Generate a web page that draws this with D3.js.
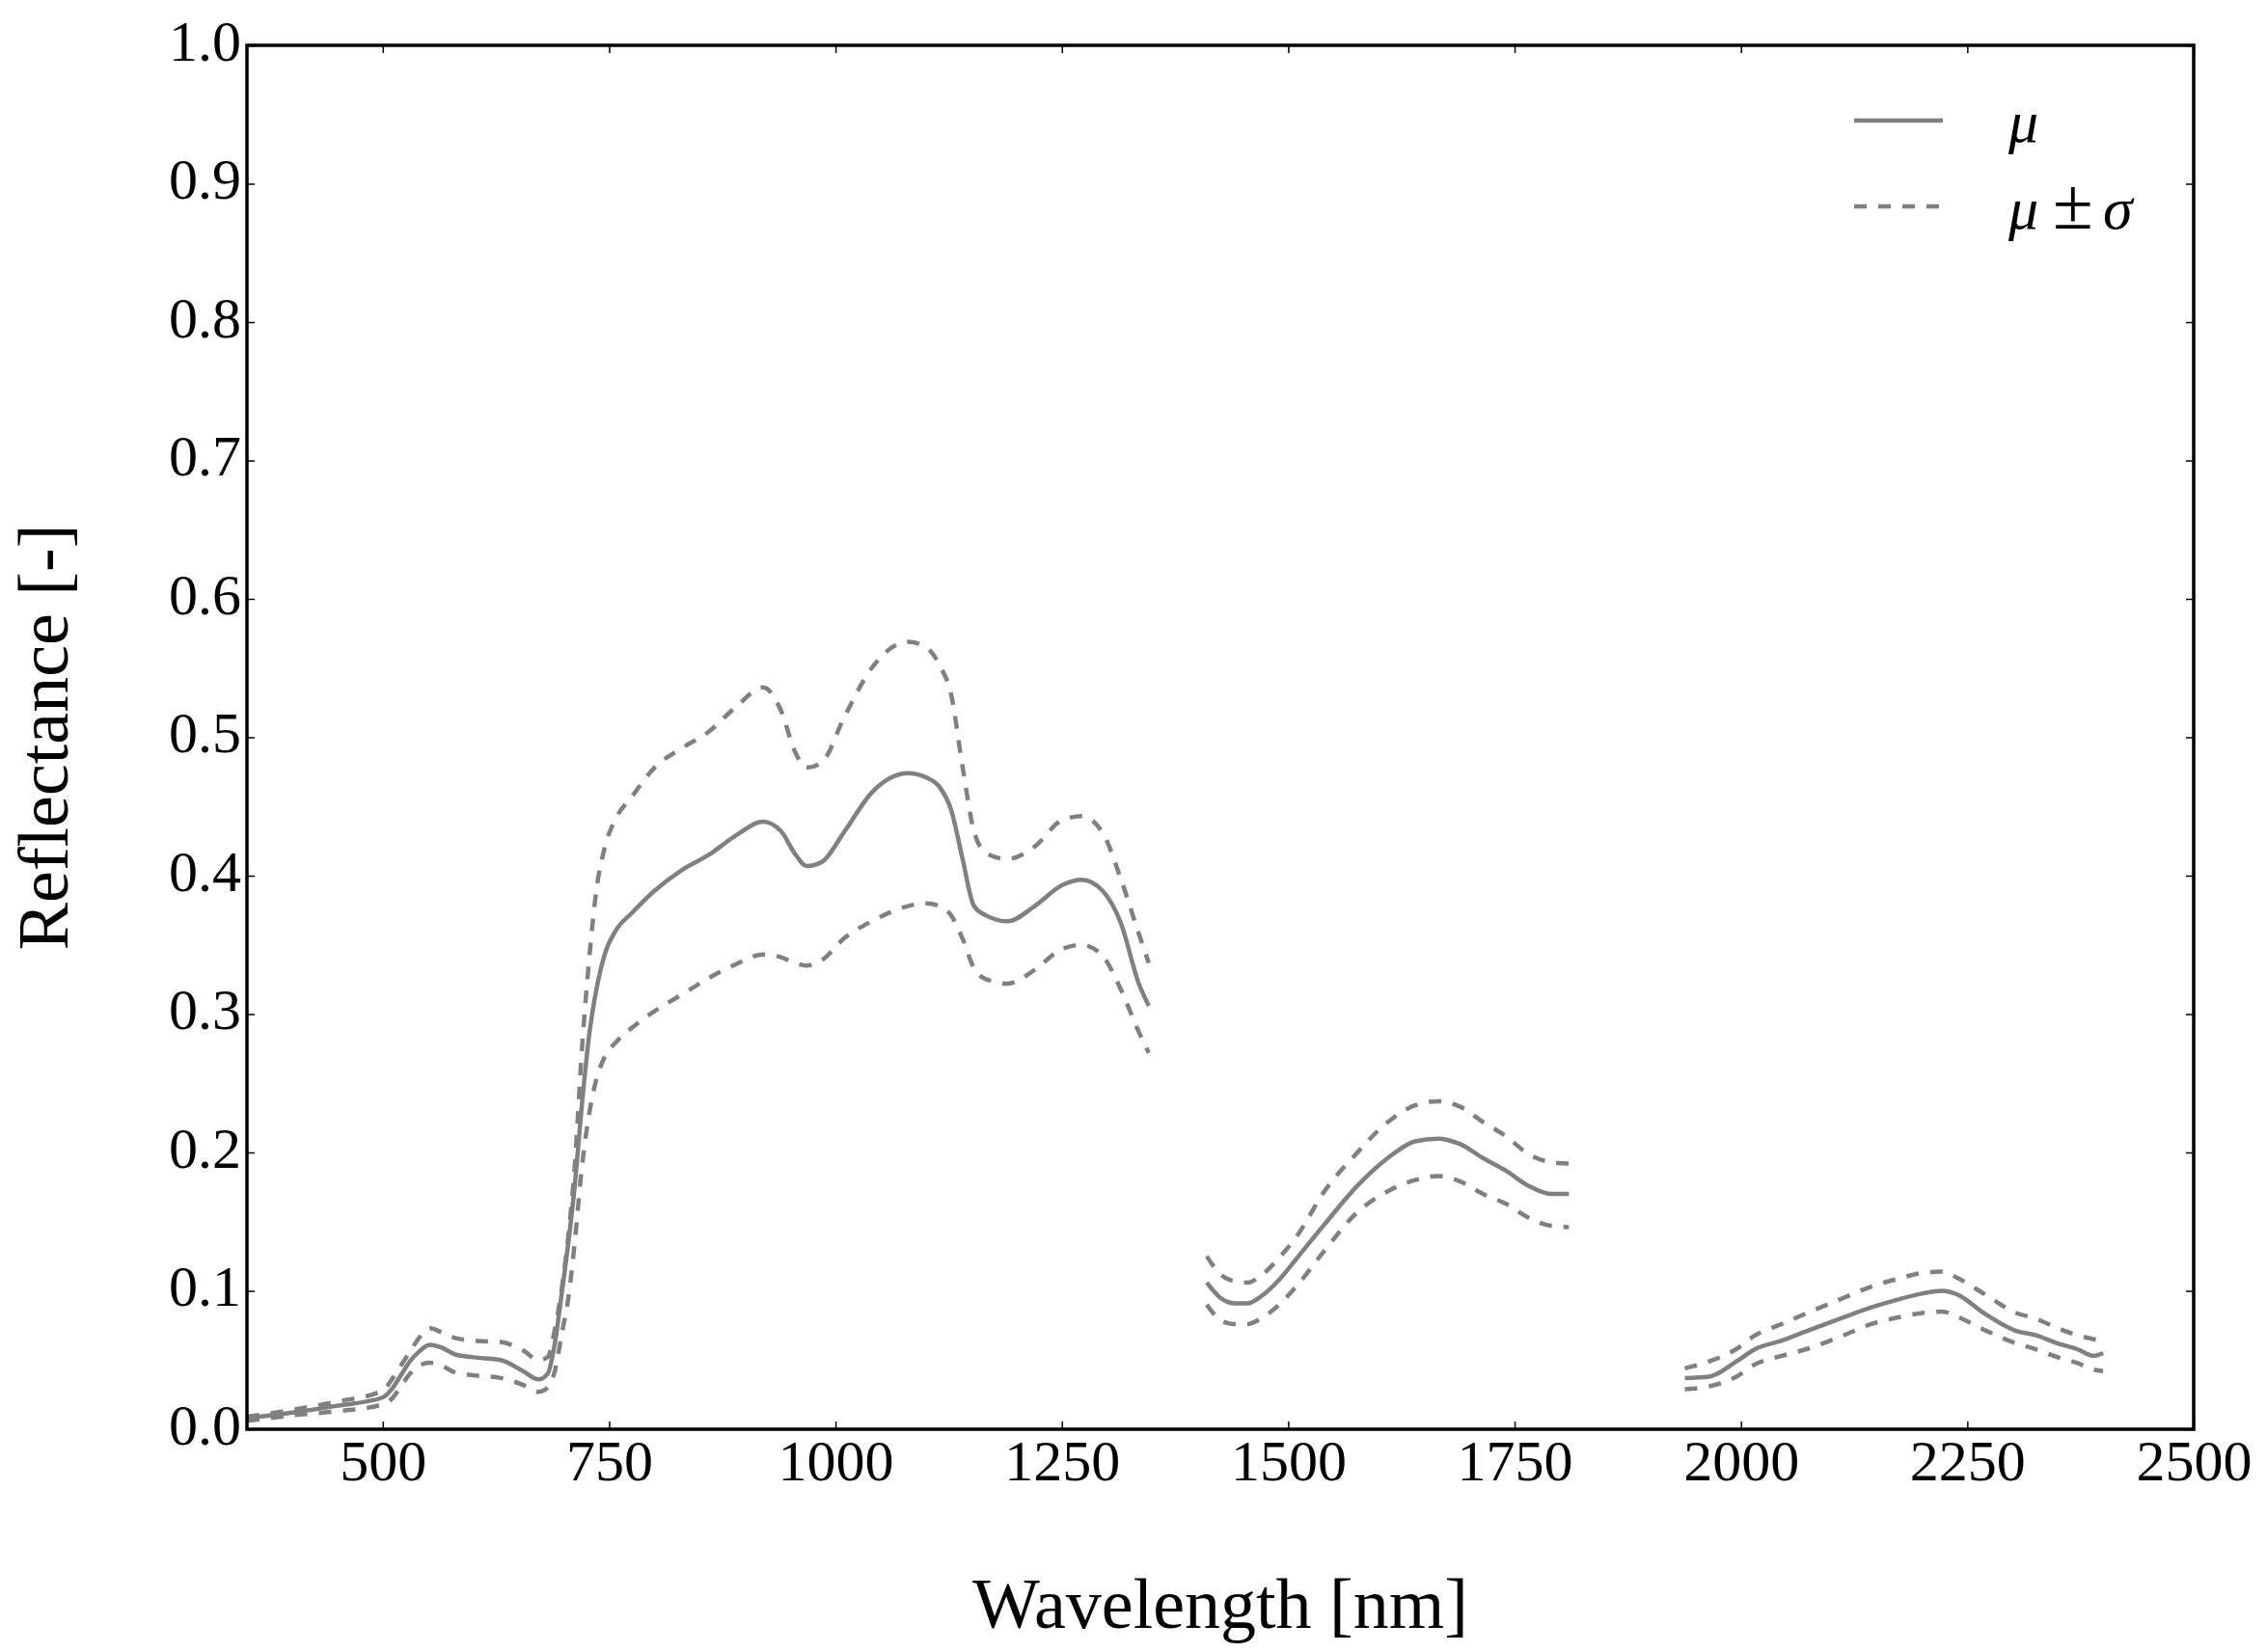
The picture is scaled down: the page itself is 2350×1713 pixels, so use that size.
<!DOCTYPE html>
<html>
<head>
<meta charset="utf-8">
<script src="https://cdn.jsdelivr.net/npm/d3@7"></script>
<style>
  body { margin: 0; background: #fff; }
  svg { display: block; }
  .tick-label { font-family: 'Liberation Serif', 'Times New Roman', serif; font-size: 60px; fill: #000; }
  .axis-title { font-family: 'Liberation Serif', 'Times New Roman', serif; font-size: 74px; fill: #000; }
  .legend-text { font-family: 'Liberation Serif', 'Times New Roman', serif; font-size: 62px; fill: #000; }
</style>
</head>
<body>
<div id="chart"></div>
<script>
/* globals d3 */

// three spectral windows (water absorption bands are left out)
const wlVis = [350, 400, 450, 500, 510, 520, 530, 540, 552, 565, 580, 600, 630, 655, 672, 682, 690, 698, 705, 712, 720, 728, 736, 745, 758, 775, 800, 830, 860, 890, 920, 940, 955, 968, 985, 1010, 1040, 1080, 1100, 1115, 1128, 1140, 1153, 1167, 1190, 1220, 1250, 1272, 1295, 1315, 1335, 1346]
const meanVis = [0.008, 0.012, 0.017, 0.023, 0.029, 0.039, 0.049, 0.056, 0.061, 0.059, 0.054, 0.052, 0.050, 0.042, 0.036, 0.040, 0.062, 0.100, 0.135, 0.176, 0.235, 0.285, 0.318, 0.343, 0.361, 0.373, 0.389, 0.404, 0.415, 0.429, 0.439, 0.432, 0.416, 0.407, 0.410, 0.432, 0.460, 0.474, 0.471, 0.464, 0.447, 0.413, 0.378, 0.371, 0.367, 0.378, 0.393, 0.397, 0.389, 0.366, 0.322, 0.306]
const plusVis = [0.009, 0.014, 0.020, 0.028, 0.036, 0.046, 0.056, 0.066, 0.073, 0.070, 0.066, 0.064, 0.063, 0.057, 0.050, 0.052, 0.072, 0.103, 0.140, 0.190, 0.275, 0.340, 0.390, 0.420, 0.442, 0.457, 0.478, 0.492, 0.504, 0.522, 0.536, 0.519, 0.490, 0.478, 0.482, 0.515, 0.550, 0.569, 0.565, 0.552, 0.530, 0.480, 0.432, 0.416, 0.412, 0.421, 0.440, 0.443, 0.431, 0.398, 0.358, 0.337]
const minusVis = [0.006, 0.010, 0.013, 0.018, 0.022, 0.031, 0.040, 0.046, 0.048, 0.046, 0.041, 0.039, 0.037, 0.032, 0.027, 0.030, 0.042, 0.070, 0.095, 0.135, 0.190, 0.228, 0.253, 0.269, 0.280, 0.290, 0.302, 0.314, 0.326, 0.336, 0.343, 0.341, 0.337, 0.335, 0.339, 0.355, 0.367, 0.378, 0.380, 0.378, 0.371, 0.355, 0.333, 0.325, 0.322, 0.332, 0.347, 0.350, 0.342, 0.318, 0.287, 0.272]

const wlSwir1 = [1410, 1425, 1440, 1455, 1470, 1490, 1510, 1540, 1575, 1610, 1640, 1665, 1690, 1715, 1740, 1765, 1790, 1810]
const meanSwir1 = [0.106, 0.095, 0.091, 0.091, 0.096, 0.108, 0.124, 0.148, 0.175, 0.196, 0.208, 0.210, 0.206, 0.196, 0.187, 0.176, 0.170, 0.170]
const plusSwir1 = [0.125, 0.112, 0.107, 0.106, 0.111, 0.124, 0.140, 0.172, 0.199, 0.222, 0.234, 0.237, 0.233, 0.222, 0.212, 0.199, 0.193, 0.192]
const minusSwir1 = [0.090, 0.079, 0.076, 0.076, 0.080, 0.090, 0.104, 0.129, 0.156, 0.172, 0.180, 0.183, 0.179, 0.170, 0.163, 0.153, 0.147, 0.146]

const wlSwir2 = [1938, 1965, 1995, 2016, 2045, 2073, 2110, 2144, 2175, 2200, 2222, 2240, 2268, 2304, 2325, 2350, 2371, 2390, 2400]
const meanSwir2 = [0.037, 0.038, 0.049, 0.058, 0.064, 0.071, 0.080, 0.088, 0.094, 0.098, 0.100, 0.097, 0.084, 0.071, 0.068, 0.062, 0.058, 0.053, 0.055]
const plusSwir2 = [0.044, 0.049, 0.058, 0.068, 0.076, 0.084, 0.094, 0.103, 0.109, 0.113, 0.114, 0.109, 0.098, 0.084, 0.080, 0.073, 0.068, 0.065, 0.063]
const minusSwir2 = [0.029, 0.031, 0.038, 0.047, 0.053, 0.058, 0.067, 0.076, 0.081, 0.084, 0.085, 0.081, 0.072, 0.062, 0.058, 0.052, 0.048, 0.043, 0.042]

const xTicks = [500, 750, 1000, 1250, 1500, 1750, 2000, 2250, 2500]
const yTicks = [0, 0.1, 0.2, 0.3, 0.4, 0.5, 0.6, 0.7, 0.8, 0.9, 1.0]
const legendLabels = ['μ', 'μ ± σ']

class SpectrumChart {

  constructor () {
    this._options = {
      width: 2350,
      height: 1713,
      margin: {left: 256, right: 76, top: 47, bottom: 231},
      xDomain: [350, 2500],
      yDomain: [0, 1],
      lineColor: '#808080',
      lineWidth: 4.5,
      dash: '13,12',
      tickLength: 8
    }
  }

  _segments () {
    return [
      {wl: wlVis, mean: meanVis, plus: plusVis, minus: minusVis},
      {wl: wlSwir1, mean: meanSwir1, plus: plusSwir1, minus: minusSwir1},
      {wl: wlSwir2, mean: meanSwir2, plus: plusSwir2, minus: minusSwir2}
    ]
  }

  _drawAxes () {
    const o = this._options
    const x = this._x
    const y = this._y
    const w = this._w
    const h = this._h
    const g = this._g

    const bottom = g.append('g')
      .attr('transform', 'translate(0,' + h + ')')
      .call(d3.axisBottom(x).tickValues(xTicks).tickFormat(d3.format('d'))
        .tickSizeInner(-o.tickLength).tickSizeOuter(0))
    bottom.selectAll('text')
      .attr('class', 'tick-label')
      .attr('y', 53).attr('dy', null)

    const left = g.append('g')
      .call(d3.axisLeft(y).tickValues(yTicks).tickFormat(d3.format('.1f'))
        .tickSizeInner(-o.tickLength).tickSizeOuter(0))
    left.selectAll('text')
      .attr('class', 'tick-label')
      .attr('x', -6).attr('dy', null).attr('y', 15)

    g.append('g')
      .call(d3.axisTop(x).tickValues(xTicks).tickFormat('')
        .tickSizeInner(-o.tickLength).tickSizeOuter(0))

    g.append('g')
      .attr('transform', 'translate(' + w + ',0)')
      .call(d3.axisRight(y).tickValues(yTicks).tickFormat('')
        .tickSizeInner(-o.tickLength).tickSizeOuter(0))

    g.selectAll('.domain').remove()
    g.selectAll('.tick line').attr('stroke', '#000').attr('stroke-width', 1.5)

    // frame
    g.append('rect')
      .attr('width', w).attr('height', h)
      .attr('fill', 'none').attr('stroke', '#000').attr('stroke-width', 3.5)

    g.append('text')
      .attr('class', 'axis-title')
      .attr('x', w / 2).attr('y', 1688 - o.margin.top)
      .attr('text-anchor', 'middle')
      .text('Wavelength [nm]')

    g.append('text')
      .attr('class', 'axis-title')
      .attr('transform', 'translate(' + (70 - o.margin.left) + ',' + (h / 2) + ') rotate(-90)')
      .attr('text-anchor', 'middle')
      .text('Reflectance [-]')
  }

  _drawLines () {
    const o = this._options
    const x = this._x
    const y = this._y
    const line = d3.line()
      .x(d => x(d[0]))
      .y(d => y(d[1]))
      .curve(d3.curveMonotoneX)

    const layer = this._g.append('g').attr('class', 'lines')
    this._segments().forEach(s => {
      const series = [
        {vals: s.plus, dashed: true},
        {vals: s.minus, dashed: true},
        {vals: s.mean, dashed: false}
      ]
      series.forEach(ser => {
        layer.append('path')
          .datum(s.wl.map((wl, i) => [wl, ser.vals[i]]))
          .attr('d', line)
          .attr('fill', 'none')
          .attr('stroke', o.lineColor)
          .attr('stroke-width', o.lineWidth)
          .attr('stroke-dasharray', ser.dashed ? o.dash : null)
      })
    })
  }

  _drawLegend () {
    const o = this._options
    const lg = this._svg.append('g').attr('class', 'legend')
    const rows = [125, 214]
    rows.forEach((ry, i) => {
      lg.append('line')
        .attr('x1', 1922).attr('x2', 2014)
        .attr('y1', ry).attr('y2', ry)
        .attr('stroke', o.lineColor)
        .attr('stroke-width', o.lineWidth)
        .attr('stroke-dasharray', i === 1 ? o.dash : null)
    })

    const parts = legendLabels[1].split(' ')
    lg.append('text')
      .attr('class', 'legend-text')
      .attr('x', 2082).attr('y', rows[0] + 22)
      .style('font-style', 'italic')
      .text(legendLabels[0])

    const t = lg.append('text')
      .attr('class', 'legend-text')
      .attr('y', rows[1] + 23)
    t.append('tspan').attr('x', 2082).style('font-style', 'italic').text(parts[0])
    t.append('tspan').attr('x', 2128).style('font-size', '76px').text(parts[1])
    t.append('tspan').attr('x', 2180).style('font-style', 'italic').text(parts[2])
  }

  draw (target) {
    const o = this._options
    this._w = o.width - o.margin.left - o.margin.right
    this._h = o.height - o.margin.top - o.margin.bottom
    this._x = d3.scaleLinear().domain(o.xDomain).range([0, this._w])
    this._y = d3.scaleLinear().domain(o.yDomain).range([this._h, 0])

    this._svg = d3.select(target).append('svg')
      .attr('width', o.width)
      .attr('height', o.height)
    this._svg.append('rect')
      .attr('width', o.width).attr('height', o.height).attr('fill', '#fff')
    this._g = this._svg.append('g')
      .attr('transform', 'translate(' + o.margin.left + ',' + o.margin.top + ')')

    this._drawLines()
    this._drawAxes()
    this._drawLegend()
    return this
  }
}

new SpectrumChart().draw('#chart')
</script>
</body>
</html>
